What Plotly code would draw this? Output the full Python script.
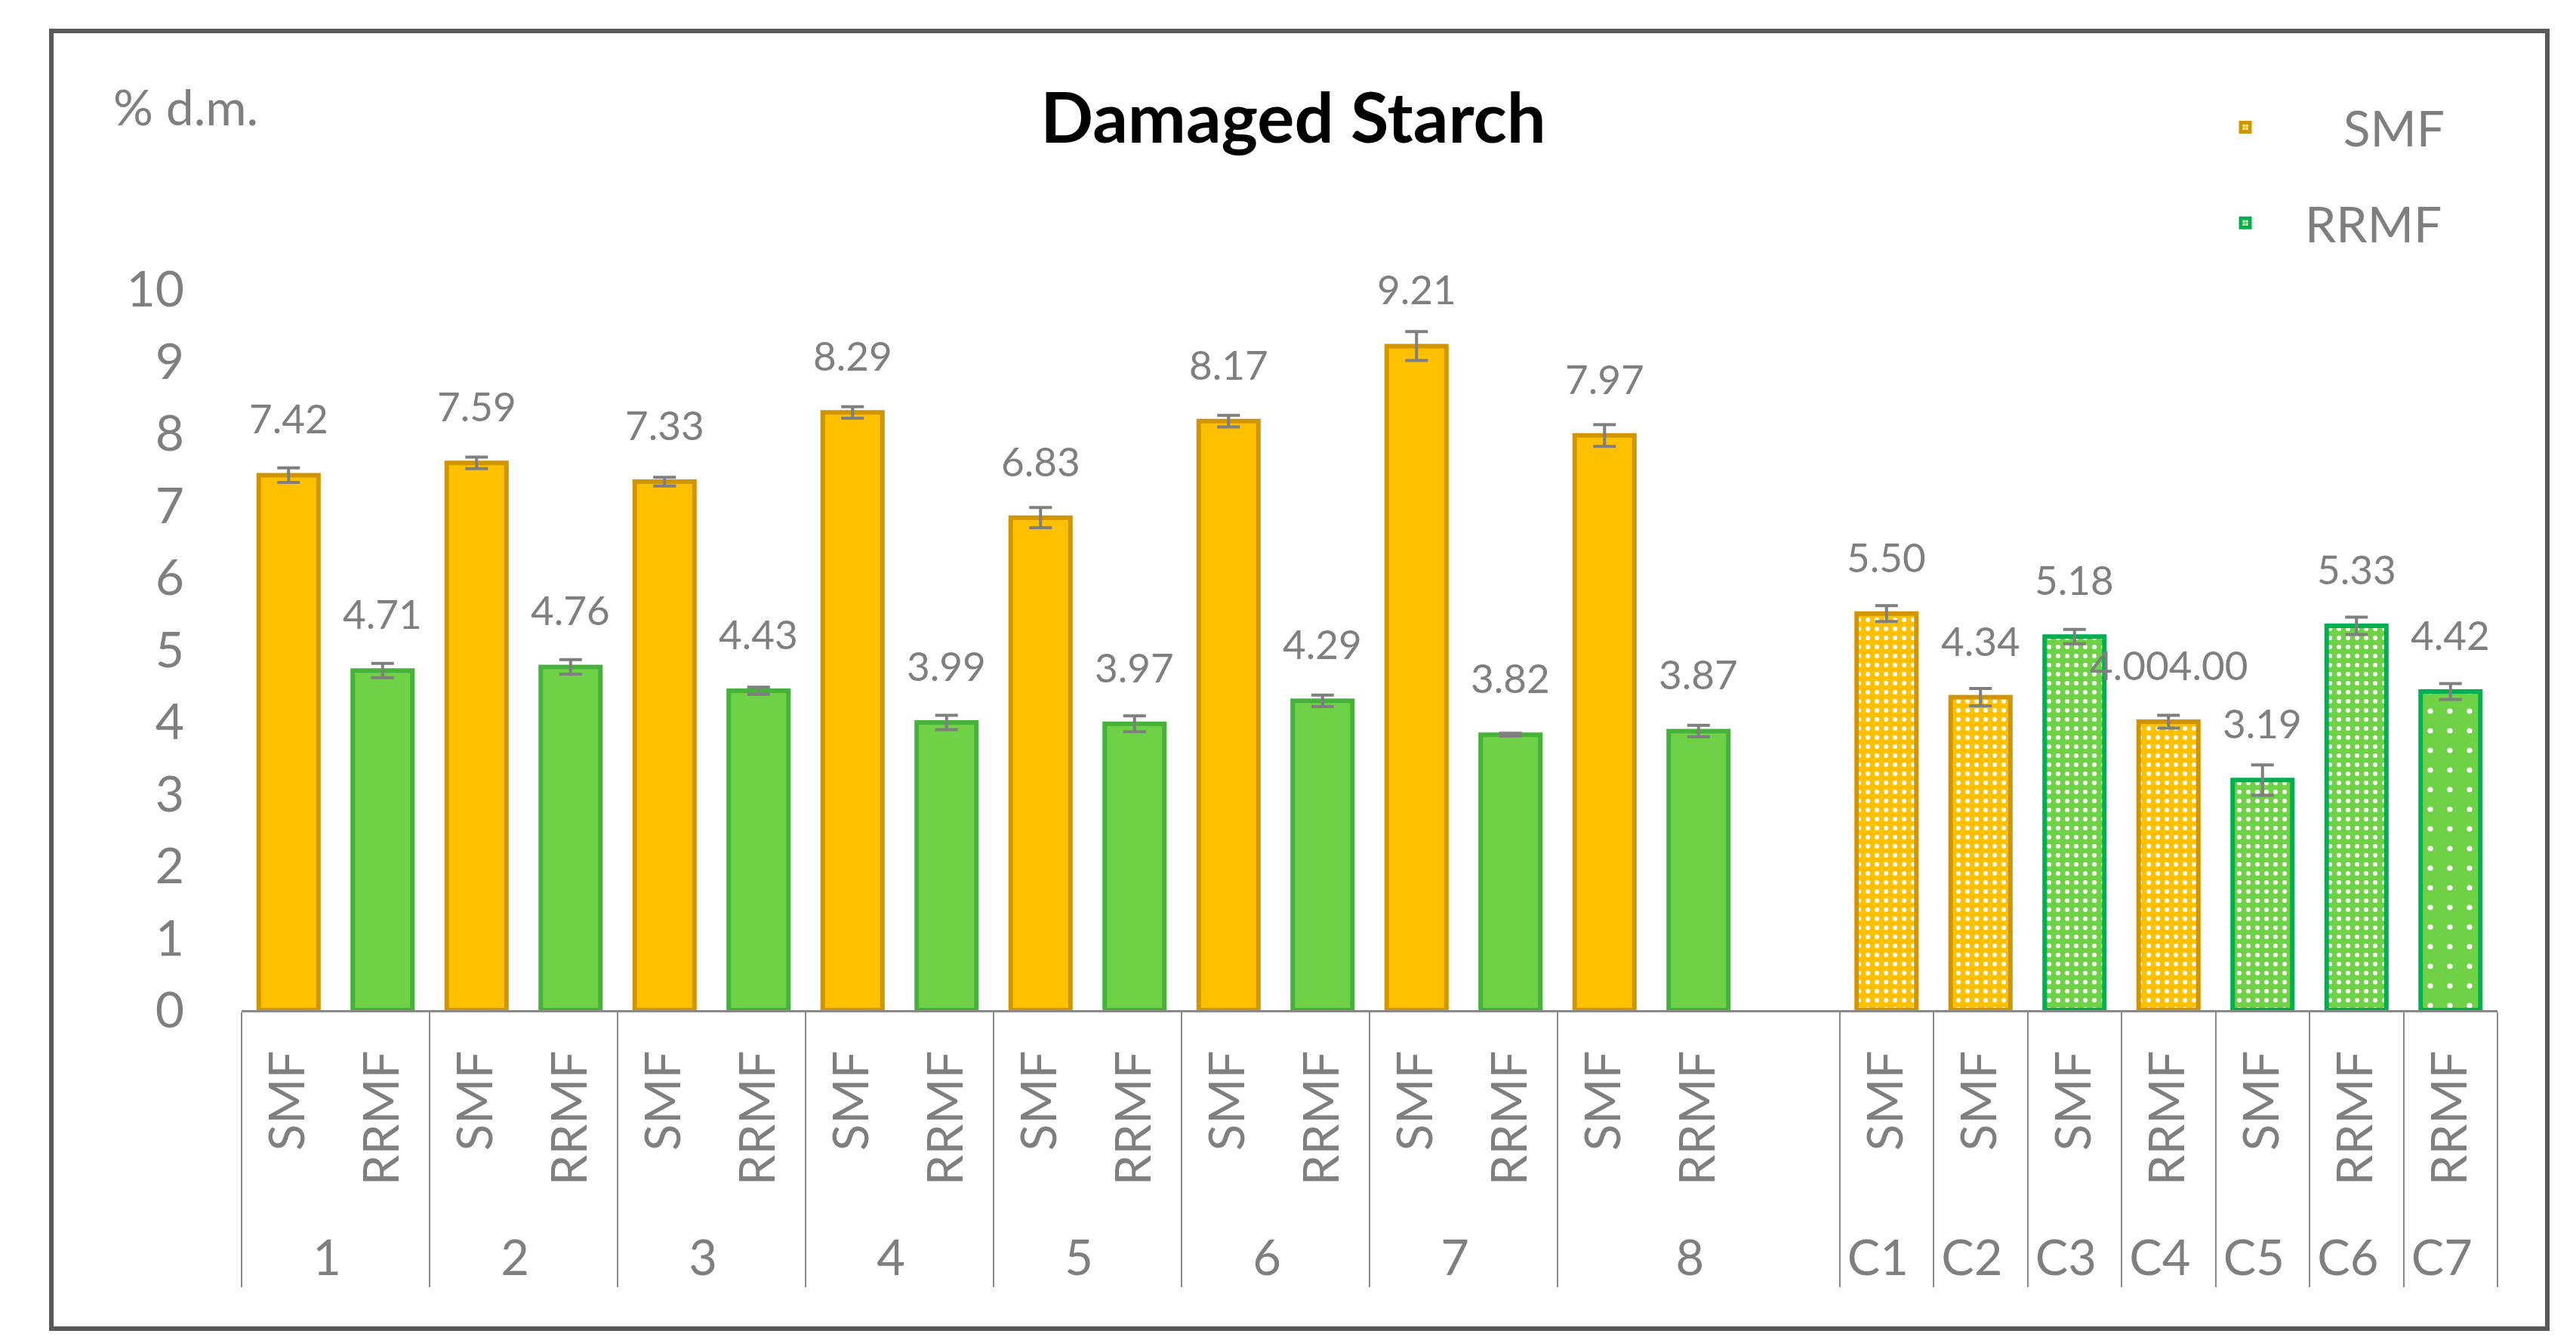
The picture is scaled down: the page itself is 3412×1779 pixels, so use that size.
import plotly.graph_objects as go

# ---------------- data ----------------
groups = ["1", "2", "3", "4", "5", "6", "7", "8"]
smf_values = [7.42, 7.59, 7.33, 8.29, 6.83, 8.17, 9.21, 7.97]
smf_errors = [0.10, 0.08, 0.06, 0.08, 0.14, 0.08, 0.20, 0.15]
rrmf_values = [4.71, 4.76, 4.43, 3.99, 3.97, 4.29, 3.82, 3.87]
rrmf_errors = [0.10, 0.10, 0.05, 0.10, 0.11, 0.08, 0.02, 0.08]

control_groups = ["C1", "C2", "C3", "C4", "C5", "C6", "C7"]
control_types = ["SMF", "SMF", "SMF", "RRMF", "SMF", "RRMF", "RRMF"]
control_series = ["SMF", "SMF", "RRMF", "SMF", "RRMF", "RRMF", "RRMF"]
control_values = [5.50, 4.34, 5.18, 4.00, 3.19, 5.33, 4.42]
control_errors = [0.11, 0.12, 0.10, 0.09, 0.21, 0.12, 0.11]
control_labels = ["5.50", "4.34", "5.18", "4.004.00", "3.19", "5.33", "4.42"]
control_coarse = [False, False, False, False, False, False, True]

y_ticks = [0, 1, 2, 3, 4, 5, 6, 7, 8, 9, 10]

# ---------------- styles ----------------
FILL = {"SMF": "#FFC000", "RRMF": "#6FD146"}
LINE_SOLID = {"SMF": "#D09500", "RRMF": "#46B13B"}
LINE_DOTTED = {"SMF": "#D09500", "RRMF": "#00B050"}
GREY = "#7F7F7F"
FONT = "Lato, 'Open Sans', sans-serif"
PAD = "\u00a0\u2009"        # invisible padding below the rotated sub-labels
W, H = 3412, 1779

# ---------------- category list (shared by all traces) ----------------
x_group, x_sub, kinds, series, values, errors, labels, coarse = [], [], [], [], [], [], [], []
for g, sv, se, rv, re in zip(groups, smf_values, smf_errors, rrmf_values, rrmf_errors):
    for sub, v, e in (("SMF", sv, se), ("RRMF", rv, re)):
        x_group.append(g); x_sub.append(PAD + sub); kinds.append("solid")
        series.append(sub); values.append(v); errors.append(e)
        labels.append(f"{v:.2f}"); coarse.append(False)

# empty slot closing group 8
x_group.append("8"); x_sub.append(" "); kinds.append(None)
series.append(None); values.append(None); errors.append(None)
labels.append(""); coarse.append(False)

for g, t, s, v, e, lab, c in zip(control_groups, control_types, control_series,
                                 control_values, control_errors, control_labels,
                                 control_coarse):
    x_group.append(g); x_sub.append(PAD + t); kinds.append("dotted")
    series.append(s); values.append(v); errors.append(e)
    labels.append(lab); coarse.append(c)


def pick(kind, ser=None):
    ys, es = [], []
    for k, s, v, e in zip(kinds, series, values, errors):
        ok = (k == kind) and (ser is None or s == ser)
        ys.append(v if ok else None)
        es.append(e if ok else None)
    return ys, es


fig = go.Figure()

# solid bars (groups 1-8)
ys, es = pick("solid")
fig.add_trace(go.Bar(
    x=[x_group, x_sub], y=ys, width=0.635, showlegend=False,
    marker=dict(color=[FILL[s] if s else "#FFFFFF" for s in series],
                line=dict(color=[LINE_SOLID[s] if s else "#FFFFFF" for s in series], width=6)),
    error_y=dict(type="data", array=es, visible=True, color=GREY, thickness=4, width=15),
    hoverinfo="skip",
))

# dotted bars (C1-C7), one trace per colour; they also provide the legend
for ser, name, grp in (("SMF", "\u00a0\u00a0\u00a0SMF", "a"), ("RRMF", "RRMF", "b")):
    ys, es = pick("dotted", ser)
    fig.add_trace(go.Bar(
        x=[x_group, x_sub], y=ys, width=0.635, name=name, legendgroup=grp,
        marker=dict(color=FILL[ser],
                    line=dict(color=LINE_DOTTED[ser], width=6),
                    pattern=dict(shape=".", fgcolor="white", bgcolor=FILL[ser],
                                 size=[26 if c else 12 for c in coarse],
                                 solidity=[0.06 if c else 0.2 for c in coarse],
                                 fillmode="replace")),
        error_y=dict(type="data", array=es, visible=True, color=GREY, thickness=4, width=15),
        hoverinfo="skip",
    ))

# value labels above the bars
annotations = []
for i, (v, lab) in enumerate(zip(values, labels)):
    if v is None:
        continue
    annotations.append(dict(
        x=i, y=v, xref="x", yref="y", text=lab, showarrow=False,
        yanchor="bottom", yshift=42,
        font=dict(family=FONT, size=53, color=GREY),
    ))

annotations.append(dict(
    x=140 / W, y=1 - 132 / H, xref="paper", yref="paper",
    text="% d.m.", showarrow=False, xanchor="left", yanchor="middle",
    font=dict(family=FONT, size=66, color=GREY),
))

fig.update_layout(
    width=W, height=H, autosize=False,
    margin=dict(l=0, r=0, t=0, b=0, pad=0, autoexpand=False),
    paper_bgcolor="white", plot_bgcolor="white",
    barmode="overlay",
    title=dict(text="<b>Damaged Starch</b>", x=1705 / W, xanchor="center",
               y=1 - 149 / H, yanchor="middle",
               font=dict(family=FONT, size=92, color="black")),
    xaxis=dict(
        type="multicategory", automargin=False,
        domain=[312 / W, 3300 / W],
        showline=True, linecolor="#898989", linewidth=3,
        showgrid=False, zeroline=False,
        showdividers=True, dividercolor="#898989", dividerwidth=2,
        tickangle=-90, ticklabelstandoff=25,
        tickfont=dict(family=FONT, size=65, color=GREY),
    ),
    yaxis=dict(
        automargin=False,
        domain=[(H - 1330) / H, (H - 375) / H],
        range=[0, 10], tickvals=y_ticks,
        showline=False, showgrid=False, zeroline=False,
        ticklabelstandoff=75,
        tickfont=dict(family=FONT, size=66, color=GREY),
    ),
    legend=dict(
        x=2887 / W, y=1 - 111 / H, xanchor="left", yanchor="top",
        traceorder="grouped", tracegroupgap=38, itemwidth=148,
        font=dict(family=FONT, size=66, color=GREY),
        bgcolor="rgba(0,0,0,0)",
    ),
    annotations=annotations,
    shapes=[dict(type="rect", xref="paper", yref="paper",
                 x0=60 / W, x1=3366 / W, y0=1 - 1752 / H, y1=1 - 33 / H,
                 line=dict(color="#595959", width=6), fillcolor="rgba(0,0,0,0)",
                 layer="below")],
)

fig.write_html("out.html", config={"displayModeBar": False})
